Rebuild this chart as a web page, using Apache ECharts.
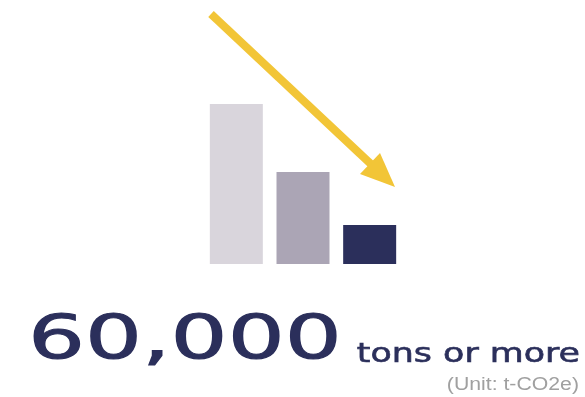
<!DOCTYPE html>
<html>
<head>
<meta charset="utf-8">
<script src="https://cdn.jsdelivr.net/npm/echarts@6/dist/echarts.min.js"></script>
<style>
  html, body { margin: 0; padding: 0; background: #fff; }
  #chart { width: 585px; height: 397px; }
</style>
</head>
<body>
<div id="chart"></div>
<script>
// three illustrative bars, shrinking
const categories = ["before", "middle", "after"];
const values = [160, 92, 39];
const barColors = ["#d9d5dc", "#aba5b5", "#2b2f5b"];

const bigNumber = "60,000";
const unitText = "tons or more";
const noteText = "(Unit: t-CO2e)";

const NAVY = "#2b2f5b";
const YELLOW = "#f2c537";

const chart = echarts.init(document.getElementById("chart"));

chart.setOption({
  animation: false,
  grid: { left: 203, right: 182, top: 64, bottom: 133 },
  xAxis: {
    type: "category",
    data: categories,
    show: false,
  },
  yAxis: { type: "value", min: 0, max: 200, show: false },
  series: [
    {
      type: "bar",
      barWidth: 53,
      silent: true,
      data: values.map((v, i) => ({ value: v, itemStyle: { color: barColors[i] } })),
    },
  ],
  graphic: [
    // arrow shaft
    {
      type: "line",
      shape: { x1: 211, y1: 14, x2: 373, y2: 166 },
      style: { stroke: YELLOW, lineWidth: 8 },
      silent: true,
    },
    // arrow head
    {
      type: "polygon",
      shape: { points: [[360, 174], [380, 153], [395, 187]] },
      style: { fill: YELLOW },
      silent: true,
    },
    // the wide geometric face of the original is faked by stretching + a thin stroke
    {
      type: "text",
      x: 28,
      y: 342,
      scaleX: 1.47,
      originX: 0,
      style: {
        text: bigNumber,
        font: "61px 'DejaVu Sans'",
        fill: NAVY,
        stroke: NAVY,
        lineWidth: 1,
        textAlign: "left",
        textVerticalAlign: "middle",
      },
    },
    {
      type: "text",
      x: 580,
      y: 355,
      scaleX: 1.29,
      originX: 0,
      style: {
        text: unitText,
        font: "27px 'DejaVu Sans'",
        fill: NAVY,
        stroke: NAVY,
        lineWidth: 0.6,
        textAlign: "right",
        textVerticalAlign: "middle",
      },
    },
    {
      type: "text",
      x: 579,
      y: 385,
      scaleX: 1.18,
      originX: 0,
      style: {
        text: noteText,
        font: "18px 'Liberation Sans'",
        fill: "#a0a0a0",
        textAlign: "right",
        textVerticalAlign: "middle",
      },
    },
  ],
});
</script>
</body>
</html>
